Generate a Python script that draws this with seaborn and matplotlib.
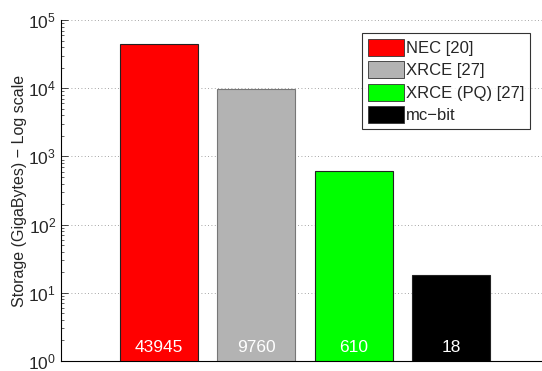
import matplotlib
matplotlib.use("Agg")
import matplotlib.pyplot as plt
import seaborn as sns
import pandas as pd
from matplotlib.ticker import LogLocator, NullFormatter
from matplotlib.patches import Patch

methods = ["NEC [20]", "XRCE [27]", "XRCE (PQ) [27]", "mc\u2212bit"]
storage_gb = [43945, 9760, 610, 18]
value_labels = ["43945", "9760", "610", "18"]
colors = ["#ff0000", "#b3b3b3", "#00ff00", "#000000"]

sns.set_style("white")
plt.rcParams["font.family"] = ["Liberation Sans", "DejaVu Sans"]
plt.rcParams["mathtext.fontset"] = "custom"
plt.rcParams["mathtext.rm"] = "Liberation Sans"
plt.rcParams["mathtext.it"] = "Liberation Sans"

df = pd.DataFrame({"method": methods, "storage": storage_gb})

fig = plt.figure(figsize=(5.42, 3.71), dpi=100)
ax = fig.add_axes([61 / 542, 10 / 371, 488 / 542, 341 / 371])

sns.barplot(data=df, x="method", y="storage", hue="method", palette=colors,
            saturation=1, dodge=False, width=0.8, ax=ax, legend=False,
            edgecolor="#222222", linewidth=0.8)
ax.set_yscale("log")
ax.set_ylim(1, 1e5)
ax.set_xlim(-1, 4)

for i, p in enumerate(ax.patches):
    if i == 1:
        p.set_edgecolor("#777777")

for i, lab in enumerate(value_labels):
    ax.text(i, 1.22, lab, color="white", ha="center", va="bottom", fontsize=12.5)

ax.set_xticks([])
ax.set_xlabel("")
ax.set_ylabel("Storage (GigaBytes) \u2212 Log scale", fontsize=11.5, labelpad=1)
ax.yaxis.set_major_locator(LogLocator(base=10, numticks=10))
ax.yaxis.set_minor_locator(LogLocator(base=10, subs=range(2, 10), numticks=20))
ax.yaxis.set_minor_formatter(NullFormatter())
ax.tick_params(axis="y", which="major", direction="in", length=5, width=0.6,
               labelsize=12.5, left=True)
ax.tick_params(axis="y", which="minor", direction="in", length=2.5, width=0.5, left=True)
ax.grid(axis="y", which="major", linestyle=(0, (1, 3)), color="#888888", linewidth=0.6)
ax.set_axisbelow(True)

for side in ["top", "right"]:
    ax.spines[side].set_visible(False)
for side in ["left", "bottom"]:
    ax.spines[side].set_color("black")
    ax.spines[side].set_linewidth(0.8)

handles = [Patch(facecolor=c, edgecolor="#333333", linewidth=0.6) for c in colors]
leg = ax.legend(handles, methods, loc="upper left",
                bbox_to_anchor=(362 / 542, 1 - 33 / 371), bbox_transform=fig.transFigure,
                fontsize=12, frameon=True, fancybox=False, edgecolor="black",
                handlelength=2.2, handleheight=1.2, handletextpad=0.1,
                labelspacing=0.32, borderpad=0.35, borderaxespad=0)
leg.get_frame().set_linewidth(0.8)

fig.savefig("out.png", dpi=100)
